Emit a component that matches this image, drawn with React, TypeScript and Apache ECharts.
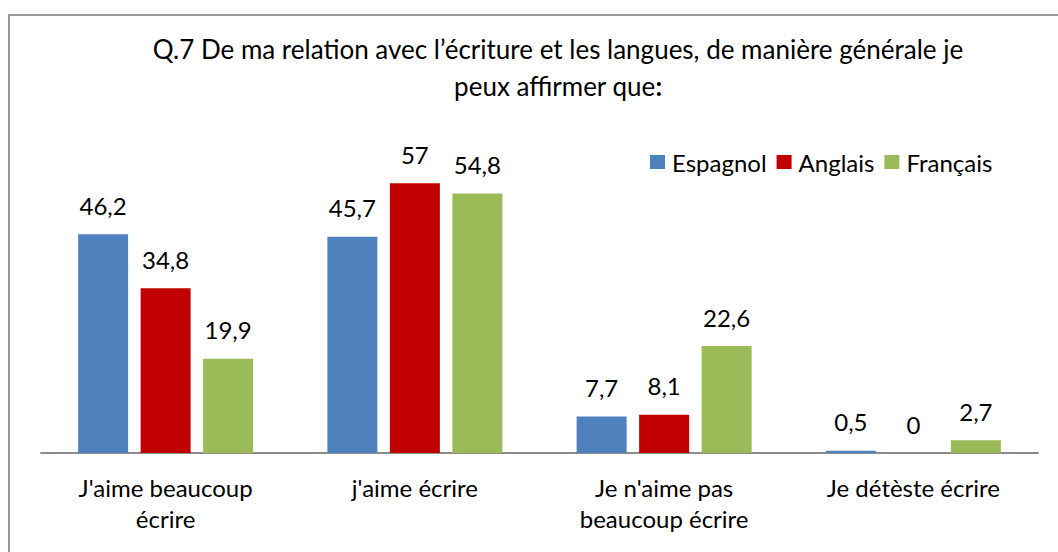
import React, { useEffect, useRef } from "react";
import * as echarts from "echarts";

const categories = [
  "J'aime beaucoup\nécrire",
  "j'aime écrire",
  "Je n'aime pas\nbeaucoup écrire",
  "Je détèste écrire",
];
const seriesNames = ["Espagnol", "Anglais", "Français"];
const espagnol = [46.2, 45.7, 7.7, 0.5];
const anglais = [34.8, 57, 8.1, 0];
const francais = [19.9, 54.8, 22.6, 2.7];
const colors = ["#4F81BD", "#C00000", "#9BBB59"];

const FONT = "Lato, 'Open Sans', sans-serif";

export default function App() {
  const ref = useRef<HTMLDivElement>(null);
  useEffect(() => {
    document.body.style.margin = "0";
    const chart = echarts.init(ref.current!, null, { renderer: "svg" });
    const values = [espagnol, anglais, francais];
    chart.setOption({
      animation: false,
      backgroundColor: "#ffffff",
      textStyle: { fontFamily: FONT },
      title: {
        text: "Q.7 De ma relation avec l’écriture et les langues, de manière générale je\npeux affirmer que{b|:}",
        left: 553,
        top: 25,
        textAlign: "center",
        textStyle: {
          fontFamily: FONT,
          fontSize: 26,
          fontWeight: "normal",
          color: "#000",
          lineHeight: 37,
          rich: { b: { fontWeight: "bold", fontSize: 26, fontFamily: FONT, color: "#000", lineHeight: 37 } },
        },
      },
      legend: {
        left: 645,
        top: 145,
        itemWidth: 15,
        itemHeight: 14,
        itemGap: 10,
        icon: "rect",
        data: seriesNames,
        textStyle: { fontFamily: FONT, fontSize: 24, color: "#000", padding: [0, 0, 0, 2] },
      },
      grid: { left: 41, right: 20, top: 169, bottom: 99, containLabel: false },
      xAxis: {
        type: "category",
        data: categories,
        axisLine: { show: true, lineStyle: { color: "#8C8C8C", width: 2 } },
        axisTick: { show: false },
        axisLabel: {
          fontFamily: FONT,
          fontSize: 24,
          color: "#000",
          lineHeight: 31,
          margin: 19,
          interval: 0,
        },
      },
      yAxis: {
        type: "value",
        min: 0,
        max: 60,
        show: false,
        splitLine: { show: false },
      },
      series: seriesNames.map((name, i) => ({
        name,
        type: "bar",
        data: values[i],
        barWidth: 50,
        barGap: "25%",
        itemStyle: { color: colors[i] },
        label: {
          show: true,
          position: "top",
          distance: 17,
          fontFamily: FONT,
          fontSize: 24,
          color: "#000",
          formatter: (p: any) => String(p.value).replace(".", ","),
        },
      })),
      graphic: [
        {
          type: "rect",
          silent: true,
          shape: { x: 9, y: 15, width: 1100, height: 600 },
          style: { fill: "none", stroke: "#9A9A9A", lineWidth: 2 },
          z: 100,
        },
      ],
    });
    return () => chart.dispose();
  }, []);
  return <div ref={ref} style={{ width: 1058, height: 552, position: "absolute", left: 0, top: 0 }} />;
}
